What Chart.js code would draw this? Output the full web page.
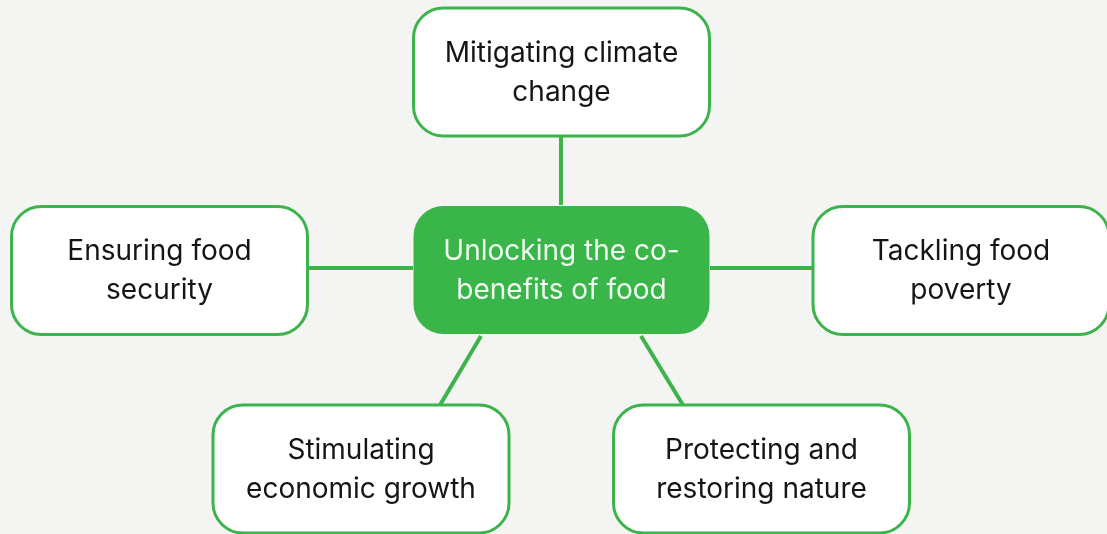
<!DOCTYPE html>
<html><head><meta charset="utf-8">
<script src="https://cdn.jsdelivr.net/npm/chart.js@4"></script>
<style>
html,body{margin:0;padding:0;background:#f4f4f3;}
#wrap{width:1107px;height:534px;position:relative;}
</style></head>
<body><div id="wrap"><canvas id="c" width="1107" height="534"></canvas></div>
<script>
// Node data (diagram coordinates)
const nodeLabels = [
  ["Mitigating climate","change"],
  ["Unlocking the co-","benefits of food"],
  ["Ensuring food","security"],
  ["Tackling food","poverty"],
  ["Stimulating","economic growth"],
  ["Protecting and","restoring nature"]
];
const nodeX = [561.5, 561.5, 159.5, 961, 361, 761.5];
const nodeY = [72, 270, 270.5, 270.5, 469, 469];
const nodeIsHub = [false, true, false, false, false, false];
// Edges: [x1,y1,x2,y2]
const edgeX1 = [561, 308, 710, 481, 641];
const edgeY1 = [136, 268, 268, 336, 336];
const edgeX2 = [561, 413, 815, 440, 683];
const edgeY2 = [205, 268, 268, 405, 405];

const BOX_W = 296, BOX_H = 128, RADIUS = 30;
const GREEN = '#3cb44b';

const edgeDatasets = edgeX1.map((x, i) => ({
  type: 'line',
  data: [{x: x, y: edgeY1[i]}, {x: edgeX2[i], y: edgeY2[i]}],
  borderColor: GREEN, borderWidth: 4, pointRadius: 0, fill: false,
  borderCapStyle: 'butt'
}));

const nodeDataset = {
  type: 'scatter',
  data: nodeX.map((x, i) => ({x: x, y: nodeY[i]})),
  pointRadius: 0
};

function roundRect(ctx, x, y, w, h, r) {
  ctx.beginPath();
  ctx.moveTo(x + r, y);
  ctx.lineTo(x + w - r, y);
  ctx.arcTo(x + w, y, x + w, y + r, r);
  ctx.lineTo(x + w, y + h - r);
  ctx.arcTo(x + w, y + h, x + w - r, y + h, r);
  ctx.lineTo(x + r, y + h);
  ctx.arcTo(x, y + h, x, y + h - r, r);
  ctx.lineTo(x, y + r);
  ctx.arcTo(x, y, x + r, y, r);
  ctx.closePath();
}

const boxPlugin = {
  id: 'boxes',
  afterDatasetsDraw(chart) {
    const ctx = chart.ctx;
    const xs = chart.scales.x, ys = chart.scales.y;
    const meta = chart.getDatasetMeta(chart.data.datasets.length - 1);
    ctx.save();
    meta.data.forEach((pt, i) => {
      const cx = pt.x, cy = pt.y;
      const w = xs.getPixelForValue(BOX_W) - xs.getPixelForValue(0);
      const h = ys.getPixelForValue(BOX_H) - ys.getPixelForValue(0);
      roundRect(ctx, cx - w / 2, cy - h / 2, w, h, RADIUS);
      if (nodeIsHub[i]) {
        ctx.fillStyle = '#3ab54a';
        ctx.fill();
      } else {
        ctx.fillStyle = '#ffffff';
        ctx.fill();
        ctx.lineWidth = 3;
        ctx.strokeStyle = GREEN;
        ctx.stroke();
      }
      ctx.fillStyle = nodeIsHub[i] ? '#effaf0' : '#151515';
      ctx.font = '28px Inter, "Noto Sans", sans-serif';
      ctx.textAlign = 'center';
      ctx.textBaseline = 'middle';
      const lines = nodeLabels[i];
      lines.forEach((ln, j) => {
        ctx.fillText(ln, cx, cy + 1 + (j - (lines.length - 1) / 2) * 39);
      });
    });
    ctx.restore();
  }
};

new Chart(document.getElementById('c'), {
  type: 'scatter',
  data: { datasets: [...edgeDatasets, nodeDataset] },
  options: {
    responsive: false, animation: false,
    layout: { padding: 0 },
    plugins: { legend: { display: false }, tooltip: { enabled: false } },
    scales: {
      x: { type: 'linear', min: 0, max: 1107, display: false },
      y: { type: 'linear', min: 0, max: 534, reverse: true, display: false }
    }
  },
  plugins: [boxPlugin]
});
</script></body></html>
